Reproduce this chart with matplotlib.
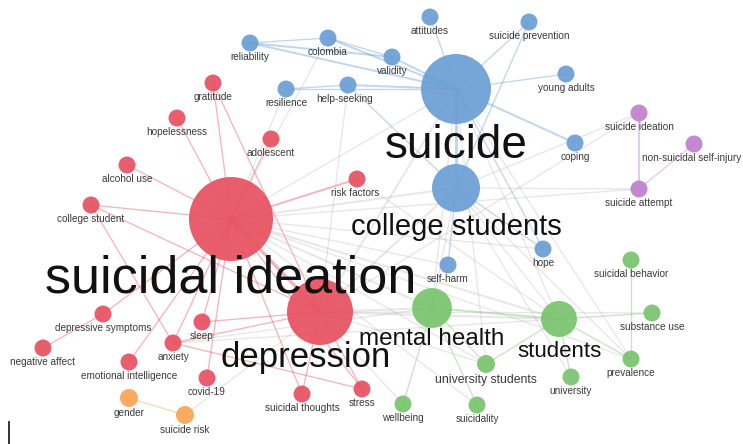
import numpy as np
import matplotlib
matplotlib.use("Agg")
import matplotlib.pyplot as plt

plt.rcParams['font.family'] = ['Liberation Sans', 'DejaVu Sans']

# ---------------- data: keyword co-occurrence map ----------------
labels = [
    "suicide", "college students", "reliability", "colombia", "attitudes",
    "suicide prevention", "validity", "resilience", "help-seeking", "young adults",
    "coping", "self-harm", "hope",
    "suicidal ideation", "depression", "gratitude", "hopelessness", "adolescent",
    "alcohol use", "college student", "risk factors", "depressive symptoms",
    "negative affect", "sleep", "anxiety", "emotional intelligence", "covid-19",
    "suicidal thoughts", "stress",
    "gender", "suicide risk",
    "mental health", "students", "suicidal behavior", "substance use", "prevalence",
    "university", "university students", "wellbeing", "suicidality",
    "suicide ideation", "non-suicidal self-injury", "suicide attempt",
]
cluster = [
    2, 2, 2, 2, 2, 2, 2, 2, 2, 2, 2, 2, 2,
    1, 1, 1, 1, 1, 1, 1, 1, 1, 1, 1, 1, 1, 1, 1, 1,
    5, 5,
    3, 3, 3, 3, 3, 3, 3, 3, 3,
    4, 4, 4,
]
# layout coordinates (map units)
x = [
    456, 456, 250, 328, 430, 529, 392, 286, 348, 566, 575, 448, 543,
    231, 320, 213, 177, 271, 127, 91, 357, 103, 43, 202, 173, 129, 207, 302, 362,
    129, 185,
    432, 559, 631, 652, 631, 571, 486, 403, 477,
    639, 694, 639,
]
y = [
    89, 188, 43, 38, 17, 22, 57, 89, 85, 74, 143, 265, 249,
    219, 312, 83, 118, 139, 165, 205, 179, 314, 348, 322, 343, 362, 378, 394, 389,
    398, 415,
    308, 319, 260, 313, 359, 377, 364, 404, 405,
    113, 144, 189,
]
occurrences = [
    136, 64, 8, 8, 8, 8, 8, 8, 8, 8, 8, 8, 8,
    196, 121, 8, 8, 8, 8, 8, 8, 8, 8, 8, 8, 8, 8, 8, 8,
    9, 9,
    44, 36, 8, 8, 8, 8, 9, 8, 8,
    8, 8, 8,
]
# links: (source, target, strength)
links = [
    ("suicide", "college students", 4), ("suicide", "reliability", 2), ("suicide", "colombia", 2),
    ("suicide", "attitudes", 1), ("suicide", "suicide prevention", 1), ("suicide", "validity", 2),
    ("suicide", "resilience", 1), ("suicide", "help-seeking", 2), ("suicide", "young adults", 1),
    ("suicide", "coping", 2), ("suicide", "hope", 1), ("reliability", "validity", 2),
    ("reliability", "colombia", 1), ("colombia", "validity", 1), ("resilience", "help-seeking", 1),
    ("college students", "suicide prevention", 1), ("college students", "self-harm", 1),
    ("college students", "hope", 1),
    ("suicidal ideation", "depression", 4), ("suicidal ideation", "gratitude", 1),
    ("suicidal ideation", "hopelessness", 1), ("suicidal ideation", "adolescent", 1),
    ("suicidal ideation", "alcohol use", 1), ("suicidal ideation", "college student", 1),
    ("suicidal ideation", "risk factors", 2), ("suicidal ideation", "depressive symptoms", 1),
    ("suicidal ideation", "anxiety", 1), ("suicidal ideation", "sleep", 1),
    ("suicidal ideation", "emotional intelligence", 1), ("suicidal ideation", "covid-19", 1),
    ("suicidal ideation", "suicidal thoughts", 1), ("suicidal ideation", "stress", 1),
    ("gratitude", "depression", 1), ("depressive symptoms", "negative affect", 1),
    ("depression", "anxiety", 1), ("depression", "sleep", 1), ("depression", "stress", 1),
    ("depression", "suicidal thoughts", 1), ("college student", "anxiety", 1),
    ("anxiety", "stress", 1), ("college student", "depression", 1),
    ("gender", "suicide risk", 1),
    ("mental health", "students", 2), ("mental health", "university students", 1),
    ("mental health", "wellbeing", 1), ("mental health", "suicidality", 1),
    ("students", "substance use", 1), ("students", "prevalence", 1), ("students", "university", 1),
    ("suicidal behavior", "prevalence", 1), ("students", "university students", 1),
    ("suicide ideation", "suicide attempt", 2), ("non-suicidal self-injury", "suicide attempt", 1),
    # between clusters
    ("suicidal ideation", "suicide", 1), ("suicidal ideation", "college students", 2),
    ("suicidal ideation", "mental health", 2), ("suicidal ideation", "students", 2),
    ("suicidal ideation", "self-harm", 1), ("suicidal ideation", "hope", 1),
    ("suicidal ideation", "university students", 1), ("suicidal ideation", "suicidality", 1),
    ("suicidal ideation", "resilience", 1), ("suicidal ideation", "colombia", 1),
    ("suicidal ideation", "suicide attempt", 1), ("suicidal ideation", "prevalence", 1),
    ("depression", "suicide", 2), ("depression", "college students", 2),
    ("depression", "mental health", 2), ("depression", "students", 2),
    ("depression", "university students", 1), ("depression", "help-seeking", 1),
    ("depression", "suicide ideation", 1), ("depression", "substance use", 1),
    ("suicide", "mental health", 1), ("suicide", "students", 1), ("suicide", "prevalence", 1),
    ("suicide", "university students", 1), ("help-seeking", "college students", 1),
    ("college students", "students", 1), ("college students", "mental health", 1),
    ("college students", "prevalence", 1), ("college students", "suicide attempt", 1),
    ("college students", "university", 1), ("anxiety", "students", 1),
    ("anxiety", "mental health", 1), ("suicide risk", "depression", 1),
    ("risk factors", "students", 1), ("wellbeing", "suicidal ideation", 1),
    ("suicide ideation", "college students", 1),
]
cluster_colors = {1: "#e8505f", 2: "#6a9fd4", 3: "#78c46c", 4: "#bf7fcf", 5: "#f8a453"}

# ---------------- styling ----------------
big_font = {"suicidal ideation": 37.5, "suicide": 33, "depression": 25,
            "college students": 21, "mental health": 17.5, "students": 16,
            "university students": 8.8}
small_font = 7.2
label_nudge = {"suicidal ideation": (0, -7), "depression": (-14, -5), "students": (0, 3),
               "risk factors": (-2, 0), "help-seeking": (-3, 0), "non-suicidal self-injury": (-2, 0)}

W, H = 743, 444
fig = plt.figure(figsize=(W / 100, H / 100), dpi=100)
ax = fig.add_axes([0, 0, 1, 1])
ax.set_xlim(0, W)
ax.set_ylim(H, 0)
ax.axis("off")

idx = {l: i for i, l in enumerate(labels)}
radius = 3.0 * np.sqrt(np.array(occurrences, dtype=float))

# edges
for a, b, s in links:
    i, j = idx[a], idx[b]
    if cluster[i] == cluster[j]:
        col, alpha = cluster_colors[cluster[i]], 0.42
    else:
        col, alpha = "#b5b5b5", 0.32
    ax.plot([x[i], x[j]], [y[i], y[j]], color=col, alpha=alpha,
            lw=0.5 + 0.45 * s, zorder=1, solid_capstyle="round")

# nodes
colors = [cluster_colors[c] for c in cluster]
sizes = (2 * radius * 0.72) ** 2
ax.scatter(x, y, s=sizes, c=colors, alpha=0.92, linewidths=0, zorder=2)

# labels
for i, lab in enumerate(labels):
    fs = big_font.get(lab, small_font)
    dx, dy = label_nudge.get(lab, (0, 0))
    big = lab in big_font and fs > 10
    ax.text(x[i] + dx, y[i] + radius[i] + 0.5 + dy, lab, fontsize=fs,
            ha="center", va="top", color="#111111" if big else "#3a3a3a",
            zorder=3)

# cursor mark at bottom-left
ax.plot([9, 9], [422, 444], color="#222222", lw=1.3, zorder=3)

fig.savefig("out.png", dpi=100, facecolor="white")
